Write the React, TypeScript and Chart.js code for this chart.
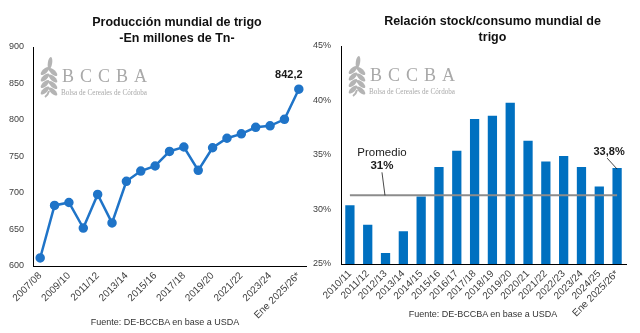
import React, { useEffect, useRef } from "react";
import { Chart, registerables } from "chart.js";

Chart.register(...registerables);

// ---------- data ----------
const prodCategories = [
  "2007/08", "2008/09", "2009/10", "2010/11", "2011/12", "2012/13", "2013/14",
  "2014/15", "2015/16", "2016/17", "2017/18", "2018/19", "2019/20", "2020/21",
  "2021/22", "2022/23", "2023/24", "2024/25", "Ene 2025/26*",
];
const prodValues = [
  611, 683, 687, 652, 698, 659, 716, 730, 737, 757, 763, 731, 762, 775, 781, 790, 792, 801, 842.2,
];
const prodAxisMin = 600;
const prodAxisMax = 900;
const prodAxisStep = 50;

const stockCategories = [
  "2010/11", "2011/12", "2012/13", "2013/14", "2014/15", "2015/16", "2016/17",
  "2017/18", "2018/19", "2019/20", "2020/21", "2021/22", "2022/23", "2023/24",
  "2024/25", "Ene 2025/26*",
];
const stockValues = [
  30.4, 28.6, 26.0, 28.0, 31.2, 33.9, 35.4, 38.3, 38.6, 39.8, 36.3, 34.4, 34.9, 33.9, 32.1, 33.8,
];
const stockPromedio = 31.3;
const stockAxisMin = 25;
const stockAxisMax = 45;
const stockAxisStep = 5;

const leftTitle = ["Producción mundial de trigo", "-En millones de Tn-"];
const rightTitle = ["Relación stock/consumo mundial de", "trigo"];
const footerText = "Fuente: DE-BCCBA en base a USDA";
const logoLetters = ["B", "C", "C", "B", "A"];
const logoSub = "Bolsa de Cereales de Córdoba";

// ---------- styles ----------
const FONT = "'Liberation Sans', Arial, sans-serif";
const SERIF = "'Liberation Serif', 'DejaVu Serif', serif";
const LINE_BLUE = "#1f74c8";
const BAR_BLUE = "#0070c0";
const TICK = "#404040";
const LOGO_GRAY = "#a9a9a9";

Chart.defaults.font.family = FONT;

const fmt = (v: number) => String(v).replace(".", ",");

function drawLogo(ctx: CanvasRenderingContext2D, x: number, y: number) {
  ctx.save();
  const cx = x + 8;
  ctx.fillStyle = "#b4b4b4";
  ctx.beginPath();
  ctx.ellipse(cx + 1, y + 6, 2.2, 6, 0.15, 0, Math.PI * 2);
  ctx.fill();
  for (let i = 0; i < 4; i++) {
    const ly = y + 14 + i * 6.5;
    ctx.beginPath();
    ctx.ellipse(cx - 4, ly, 5.5, 2.3, -0.75, 0, Math.PI * 2);
    ctx.fill();
    ctx.beginPath();
    ctx.ellipse(cx + 4, ly + 1, 5.5, 2.3, 0.75, 0, Math.PI * 2);
    ctx.fill();
  }
  ctx.strokeStyle = "#b4b4b4";
  ctx.lineWidth = 2;
  ctx.beginPath();
  ctx.moveTo(cx, y + 34);
  ctx.quadraticCurveTo(cx - 1, y + 38, cx - 4, y + 40);
  ctx.stroke();

  ctx.fillStyle = LOGO_GRAY;
  ctx.font = `18px ${SERIF}`;
  ctx.textBaseline = "alphabetic";
  ctx.textAlign = "left";
  let lx = x + 21;
  for (const l of logoLetters) {
    ctx.fillText(l, lx, y + 25);
    lx += ctx.measureText(l).width + 6;
  }
  ctx.font = `7.5px ${SERIF}`;
  const w = ctx.measureText(logoSub).width;
  ctx.save();
  ctx.translate(x + 20, y + 38);
  ctx.scale(86 / w, 1);
  ctx.fillText(logoSub, 0, 0);
  ctx.restore();
  ctx.restore();
}

const logoPlugin = {
  id: "logo",
  beforeDatasetsDraw(chart: any) {
    const a = chart.chartArea;
    drawLogo(chart.ctx, a.left + 8, a.top + 10);
  },
};

const prodLabelPlugin = {
  id: "prodLabel",
  afterDatasetsDraw(chart: any) {
    const ctx = chart.ctx;
    const meta = chart.getDatasetMeta(0);
    const last = meta.data[meta.data.length - 1];
    ctx.save();
    ctx.fillStyle = "#1a1a1a";
    ctx.font = `bold 11px ${FONT}`;
    ctx.textAlign = "center";
    ctx.textBaseline = "middle";
    ctx.fillText(fmt(prodValues[prodValues.length - 1]), last.x - 10, last.y - 14);
    ctx.restore();
  },
};

const stockLabelPlugin = {
  id: "stockLabel",
  afterDatasetsDraw(chart: any) {
    const ctx = chart.ctx;
    const xs = chart.scales.x;
    const ys = chart.scales.y;
    ctx.save();
    ctx.fillStyle = "#1a1a1a";
    ctx.strokeStyle = "#1a1a1a";
    ctx.lineWidth = 0.8;
    ctx.textAlign = "center";
    ctx.textBaseline = "middle";
    const px = xs.getPixelForValue(1.8);
    const py = ys.getPixelForValue(stockPromedio);
    ctx.font = `11.5px ${FONT}`;
    ctx.fillText("Promedio", px, py - 43);
    ctx.font = `bold 11.5px ${FONT}`;
    ctx.fillText(Math.round(stockPromedio) + "%", px, py - 30);
    ctx.beginPath();
    ctx.moveTo(px, py - 23);
    ctx.lineTo(px + 3, py);
    ctx.stroke();
    const meta = chart.getDatasetMeta(1);
    const bar = meta.data[meta.data.length - 1];
    ctx.font = `bold 11px ${FONT}`;
    ctx.fillText(fmt(stockValues[stockValues.length - 1]) + "%", bar.x - 8, bar.y - 16);
    ctx.beginPath();
    ctx.moveTo(bar.x - 10, bar.y - 10);
    ctx.lineTo(bar.x, bar.y + 1);
    ctx.stroke();
    ctx.restore();
  },
};

export default function App() {
  const leftRef = useRef<HTMLCanvasElement>(null);
  const rightRef = useRef<HTMLCanvasElement>(null);

  useEffect(() => {
    const axisBorder = { display: true, color: "#000", width: 1 };
    const c1 = new Chart(leftRef.current as HTMLCanvasElement, {
      type: "line",
      data: {
        labels: prodCategories,
        datasets: [
          {
            data: prodValues,
            borderColor: LINE_BLUE,
            backgroundColor: LINE_BLUE,
            pointBackgroundColor: LINE_BLUE,
            pointBorderColor: LINE_BLUE,
            borderWidth: 2.5,
            pointRadius: 3.5,
            tension: 0,
          },
        ],
      },
      options: {
        responsive: false,
        animation: false,
        devicePixelRatio: 1,
        layout: { padding: { top: 47, right: 24, bottom: 0, left: 0 } },
        plugins: { legend: { display: false }, tooltip: { enabled: false }, title: { display: false } },
        scales: {
          x: {
            offset: true,
            grid: { display: false, drawTicks: false },
            border: axisBorder,
            ticks: {
              autoSkip: false,
              maxRotation: 45,
              minRotation: 45,
              color: TICK,
              font: { size: 10 },
              padding: 4,
              callback: (_v: any, i: number) => (i % 2 === 0 ? prodCategories[i] : ""),
            },
            afterFit: (s: any) => {
              s.height = 67;
            },
          },
          y: {
            min: prodAxisMin,
            max: prodAxisMax,
            grid: { display: false, drawTicks: false },
            border: axisBorder,
            ticks: { stepSize: prodAxisStep, color: TICK, font: { size: 9 }, padding: 9 },
            afterFit: (s: any) => {
              s.width = 33;
            },
          },
        },
      } as any,
      plugins: [logoPlugin, prodLabelPlugin],
    });

    const c2 = new Chart(rightRef.current as HTMLCanvasElement, {
      type: "bar",
      data: {
        labels: stockCategories,
        datasets: [
          {
            type: "line",
            data: stockCategories.map(() => stockPromedio),
            borderColor: "#8c8c8c",
            borderWidth: 2,
            pointRadius: 0,
            order: 0,
          } as any,
          {
            type: "bar",
            data: stockValues,
            backgroundColor: BAR_BLUE,
            barPercentage: 0.52,
            categoryPercentage: 1,
            order: 1,
          },
        ],
      },
      options: {
        responsive: false,
        animation: false,
        devicePixelRatio: 1,
        layout: { padding: { top: 46, right: 14, bottom: 0, left: 0 } },
        plugins: { legend: { display: false }, tooltip: { enabled: false }, title: { display: false } },
        scales: {
          x: {
            offset: true,
            grid: { display: false, drawTicks: false },
            border: axisBorder,
            ticks: {
              autoSkip: false,
              maxRotation: 45,
              minRotation: 45,
              color: TICK,
              font: { size: 10 },
              padding: 4,
            },
            afterFit: (s: any) => {
              s.height = 69;
            },
          },
          y: {
            min: stockAxisMin,
            max: stockAxisMax,
            grid: { display: false, drawTicks: false },
            border: axisBorder,
            ticks: {
              stepSize: stockAxisStep,
              color: TICK,
              font: { size: 9 },
              padding: 10,
              callback: (v: any) => v + "%",
            },
            afterFit: (s: any) => {
              s.width = 41;
            },
          },
        },
      } as any,
      plugins: [logoPlugin, stockLabelPlugin],
    });

    return () => {
      c1.destroy();
      c2.destroy();
    };
  }, []);

  const titleStyle: React.CSSProperties = {
    position: "absolute",
    width: 300,
    textAlign: "center",
    fontFamily: FONT,
    fontWeight: "bold",
    fontSize: 12.5,
    lineHeight: "16px",
    color: "#111",
    whiteSpace: "nowrap",
  };
  const footStyle: React.CSSProperties = {
    position: "absolute",
    width: 240,
    textAlign: "center",
    fontFamily: FONT,
    fontSize: 9,
    lineHeight: "11px",
    color: "#333",
    whiteSpace: "nowrap",
  };

  return (
    <div
      style={{
        position: "fixed",
        left: 0,
        top: 0,
        width: 640,
        height: 333,
        background: "#fff",
        overflow: "hidden",
      }}
    >
      <canvas ref={leftRef} width={330} height={333} style={{ position: "absolute", left: 0, top: 0 }} />
      <canvas ref={rightRef} width={340} height={333} style={{ position: "absolute", left: 300, top: 0 }} />
      <div style={{ ...titleStyle, left: 177 - 150, top: 14 }}>
        {leftTitle[0]}
        <br />
        {leftTitle[1]}
      </div>
      <div style={{ ...titleStyle, left: 492.5 - 150, top: 13 }}>
        {rightTitle[0]}
        <br />
        {rightTitle[1]}
      </div>
      <div style={{ ...footStyle, left: 165 - 120, top: 317 }}>{footerText}</div>
      <div style={{ ...footStyle, left: 483 - 120, top: 308.5 }}>{footerText}</div>
    </div>
  );
}
